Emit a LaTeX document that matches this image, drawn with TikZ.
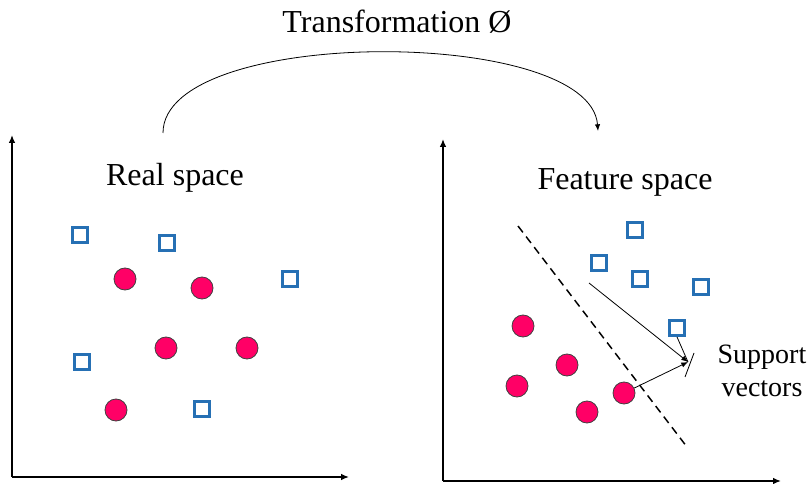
\documentclass[tikz,border=0pt]{standalone}
\usepackage{fontspec}
\setmainfont{Liberation Serif}
\usetikzlibrary{arrows.meta}

\definecolor{sqblue}{RGB}{38,112,180}
\definecolor{dotred}{RGB}{255,0,102}

\tikzset{every picture/.style={line width=0.75pt}}
\tikzset{
  sqpt/.style={draw=sqblue, line width=1.9pt, fill=white, minimum size=11.5pt, inner sep=0pt},
  dotpt/.style={circle, draw=black!75, fill=dotred, minimum size=16.5pt, inner sep=0pt, line width=0.6pt},
  axis/.style={line width=1.1pt, -{Latex[length=6pt,width=5pt]}},
  thin arrow/.style={line width=0.6pt, -{Latex[length=5pt,width=4pt]}},
}

\begin{document}
\begin{tikzpicture}[x=0.75pt,y=0.75pt,yscale=-1,xscale=1]
\useasboundingbox (0,0) rectangle (809,484);

%Axes: real space
\coordinate (ro) at (12,477);
\draw [axis] (ro) -- (12,135);
\draw [axis] (ro) -- (349,477);
%Axes: feature space
\coordinate (fo) at (443,481);
\draw [axis] (fo) -- (443,139);
\draw [axis] (fo) -- (781,481);

% Text Node
\draw (397,22) node (title) [font=\fontsize{24}{28}\selectfont] {Transformation Ø};
% Text Node
\draw (175,178) node (rs) [font=\fontsize{24}{28}\selectfont] {Real space};
% Text Node
\draw (762,371) node (sv) [align=center, font=\fontsize{21}{25}\selectfont] {Support\\vectors};
% Text Node
\draw (625,182) node (fs) [font=\fontsize{24}{28}\selectfont] {Feature space};

%Curve: mapping
\coordinate (mapa) at (163,133);
\coordinate (mapb) at (598,131);
\draw [thin arrow] (mapa) .. controls (163,26) and (590,26) .. (mapb);

%Shape: Squares, real space
\node (ra1) [sqpt] at (80,235) {};
\node (ra2) [sqpt] at (167,243) {};
\node (ra3) [sqpt] at (290,279) {};
\node (ra4) [sqpt] at (82,362) {};
\node (ra5) [sqpt] at (202,409) {};
%Shape: Circles, real space
\node (rb1) [dotpt] at (125,279) {};
\node (rb2) [dotpt] at (202,288) {};
\node (rb3) [dotpt] at (166,348) {};
\node (rb4) [dotpt] at (247,348) {};
\node (rb5) [dotpt] at (116,410) {};

%Separating line
\coordinate (sepa) at (518,226);
\coordinate (sepb) at (687,447);
\draw [dashed, line width=1.1pt, dash pattern=on 6pt off 4pt] (sepa) -- (sepb);

%Shape: Squares, feature space
\node (fa1) [sqpt] at (635,230) {};
\node (fa2) [sqpt] at (599,263) {};
\node (fa3) [sqpt] at (640,279) {};
\node (fa4) [sqpt] at (701,287) {};
\node (fa5) [sqpt] at (677,328) {};
%Shape: Circles, feature space
\node (fb1) [dotpt] at (523,326) {};
\node (fb2) [dotpt] at (567,365) {};
\node (fb3) [dotpt] at (517,386) {};
\node (fb4) [dotpt] at (587,412) {};
\node (fb5) [dotpt] at (624,393) {};

%Support vector pointers
\coordinate (svtip) at (688,362);
\coordinate (svfrom) at (589,283);
\coordinate (barA) at (685,377);
\coordinate (barB) at (694,353);
\draw [thin arrow] (svfrom) -- (svtip);
\draw [line width=0.6pt] (fa5.south) -- (svtip);
\draw [thin arrow] (fb5) -- (svtip);
\draw [line width=0.6pt] (barA) -- (barB);

\end{tikzpicture}
\end{document}
